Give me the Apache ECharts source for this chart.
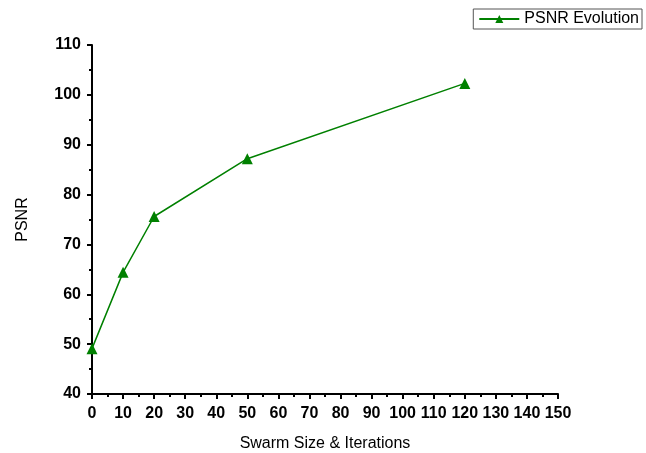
<!DOCTYPE html>
<html>
<head>
<meta charset="utf-8">
<script src="https://cdn.jsdelivr.net/npm/echarts@6/dist/echarts.min.js"></script>
<style>
  html, body { margin: 0; padding: 0; background: #fff; }
  #chart { width: 646px; height: 453px; }
</style>
</head>
<body>
<div id="chart"></div>
<script>
// Swarm size / iteration count against the resulting PSNR
const swarmSizes = [0, 10, 20, 50, 120];
const psnrValues = [49.1, 64.4, 75.6, 87.2, 102.3];
const seriesName = 'PSNR Evolution';

const chart = echarts.init(document.getElementById('chart'));
const font = 'Liberation Sans, Arial, sans-serif';

const axisCommon = {
  axisLine: { show: true, lineStyle: { color: '#000', width: 2 } },
  axisTick: { show: true, inside: false, length: 5, lineStyle: { color: '#000', width: 2 } },
  minorTick: { show: true, splitNumber: 2, length: 3, lineStyle: { color: '#000', width: 2 } },
  splitLine: { show: false },
  axisLabel: { color: '#000', fontFamily: font, fontWeight: 'bold', fontSize: 16 },
  nameTextStyle: { color: '#000', fontFamily: font, fontSize: 16 }
};

chart.setOption({
  animation: false,
  backgroundColor: '#fff',
  grid: { left: 92, right: 88, top: 45, bottom: 59, containLabel: false, outerBoundsMode: 'none' },
  legend: {
    data: [seriesName],
    right: 4,
    top: 9,
    orient: 'horizontal',
    borderColor: '#555',
    borderWidth: 1,
    borderRadius: 0,
    padding: [2, 3, 2, 5],
    itemWidth: 40,
    itemHeight: 10,
    itemGap: 4,
    textStyle: { color: '#000', fontFamily: font, fontSize: 16 }
  },
  xAxis: Object.assign({}, axisCommon, {
    type: 'value',
    min: 0,
    max: 150,
    interval: 10,
    name: 'Swarm Size & Iterations',
    nameLocation: 'middle',
    nameGap: 42,
    axisLabel: Object.assign({}, axisCommon.axisLabel, { margin: 12 })
  }),
  yAxis: Object.assign({}, axisCommon, {
    type: 'value',
    min: 40,
    max: 110,
    interval: 10,
    name: 'PSNR',
    nameLocation: 'middle',
    nameGap: 61,
    nameRotate: 90,
    axisLabel: Object.assign({}, axisCommon.axisLabel, { margin: 11 })
  }),
  series: [{
    name: seriesName,
    type: 'line',
    data: swarmSizes.map((x, i) => [x, psnrValues[i]]),
    symbol: 'triangle',
    symbolSize: 11,
    showAllSymbol: true,
    itemStyle: { color: '#008000' },
    lineStyle: { color: '#008000', width: 1.5 }
  }]
});
</script>
</body>
</html>
